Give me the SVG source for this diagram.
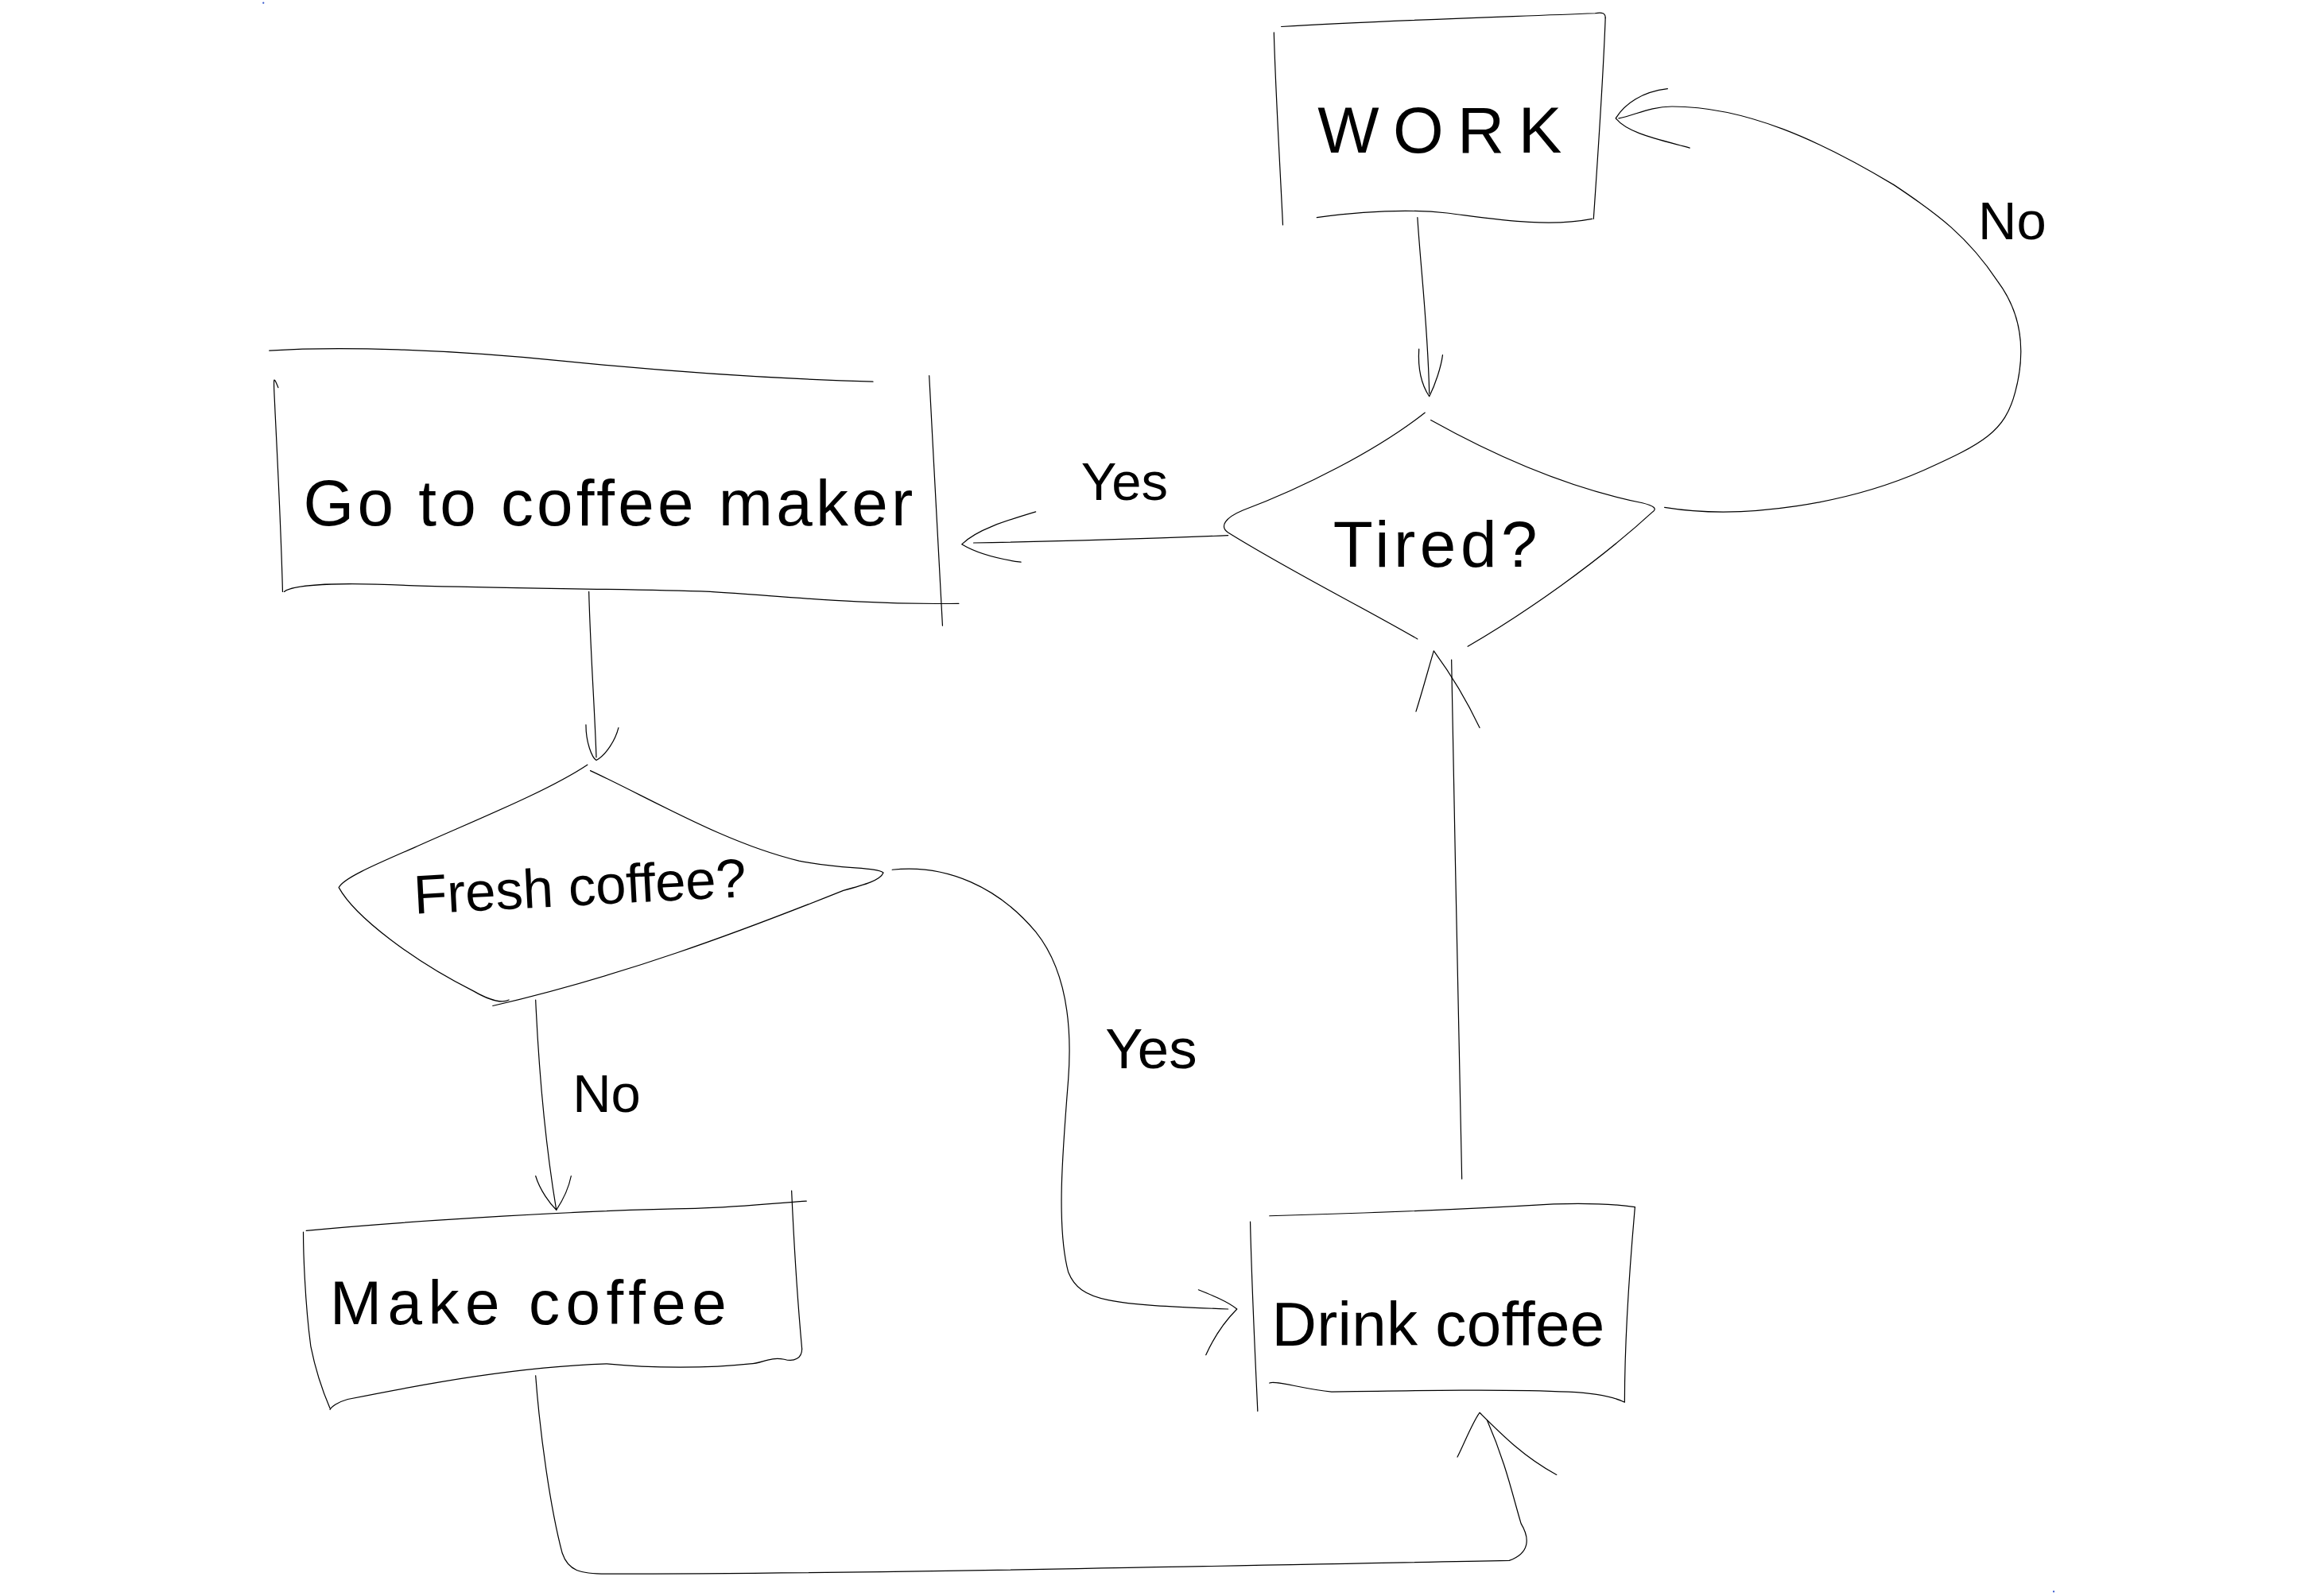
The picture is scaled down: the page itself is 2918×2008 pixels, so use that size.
<svg xmlns="http://www.w3.org/2000/svg" width="2918" height="2008" viewBox="0 0 2918 2008">
<style>
.s{fill:none;stroke:#000;stroke-width:0.65;stroke-linecap:round;stroke-linejoin:round}
.t{font-family:"Liberation Sans",Arial,sans-serif;fill:#000;text-anchor:middle}
</style>
<rect width="2918" height="2008" fill="#fff"/>
<g transform="scale(1.861)">
<g id="work">
<path class="s" d="M866,18 C930,14 1000,12 1078,9 C1083,8 1085,9 1085,12"/>
<path class="s" d="M861,22 C862,60 865,110 867,152"/>
<path class="s" d="M1085,12 C1084,40 1081,90 1077,148"/>
<path class="s" d="M890,147 C920,143 950,141 978,144 C1010,148 1045,154 1076,148"/>
<text class="t" x="973" y="103" font-size="44" textLength="165" lengthAdjust="spacing">WORK</text>
</g>
<g id="tired">
<path class="s" d="M963,279 C930,305 880,330 840,345 C828,350 824,356 830,360 C870,385 920,410 958,432"/>
<path class="s" d="M967,284 C1010,308 1060,330 1110,340 C1118,342 1120,344 1117,346 C1080,380 1030,415 992,437"/>
<text class="t" x="970" y="383" font-size="44" textLength="138" lengthAdjust="spacing">Tired?</text>
</g>
<g id="goto">
<path class="s" d="M182,237 C230,234 300,236 380,244 C450,251 520,256 590,258"/>
<path class="s" d="M188,262 C184,252 185,256 186,280 C188,320 190,360 191,400"/>
<path class="s" d="M628,254 C631,310 634,370 637,423"/>
<path class="s" d="M192,400 C200,394 240,394 280,396 C350,398 420,398 480,400 C530,403 580,409 648,408"/>
<text class="t" x="411" y="355" font-size="44" textLength="412" lengthAdjust="spacing">Go to coffee maker</text>
</g>
<g id="fresh">
<path class="s" d="M397,517 C370,535 320,555 280,573 C250,586 232,594 229,600 C240,620 280,650 320,670 C332,677 340,678 344,676"/>
<path class="s" d="M399,521 C440,540 490,570 540,582 C570,588 592,586 597,590 C595,595 585,598 570,602 C500,630 420,660 333,680"/>
<text class="t" x="392" y="612" font-size="37" textLength="225" lengthAdjust="spacing" transform="rotate(-3 392 600)">Fresh coffee?</text>
</g>
<g id="make">
<path class="s" d="M207,832 C280,825 400,818 470,817 C500,816 530,813 545,812"/>
<path class="s" d="M205,833 C205,845 206,880 210,910 C214,930 220,945 223,952"/>
<path class="s" d="M535,805 C537,850 540,890 542,912 C542,918 537,921 530,919 C520,917 515,922 507,922 C480,925 440,925 410,922 C350,924 290,935 235,946 C228,948 224,951 223,953"/>
<text class="t" x="357" y="895" font-size="42" textLength="268" lengthAdjust="spacing">Make coffee</text>
</g>
<g id="drink">
<path class="s" d="M858,822 C930,820 1000,817 1050,814 C1080,813 1098,815 1105,816"/>
<path class="s" d="M845,826 C846,870 848,910 850,954"/>
<path class="s" d="M1105,816 C1102,850 1098,900 1098,948 C1092,945 1080,942 1060,941 C1020,939 960,940 900,941 C880,939 862,933 858,935"/>
<text class="t" x="972" y="910" font-size="42" textLength="225" lengthAdjust="spacing">Drink coffee</text>
</g>
<g id="connectors">
<path class="s" d="M958,147 C960,180 965,220 966,266"/>
<path class="s" d="M959,236 C958,252 962,262 966,268 C970,260 974,248 975,240"/>
<path class="s" d="M1125,343 C1180,352 1250,340 1300,318 C1340,300 1355,292 1362,265 C1370,235 1365,210 1350,190 C1330,160 1310,145 1280,125 C1230,95 1180,72 1130,72 C1115,72 1105,78 1094,80"/>
<path class="s" d="M1127,60 C1110,62 1098,70 1092,80 C1100,90 1120,94 1142,100"/>
<path class="s" d="M830,362 C780,364 720,366 658,367"/>
<path class="s" d="M700,346 C680,352 660,358 650,368 C660,374 675,378 690,380"/>
<path class="s" d="M398,400 C399,440 402,480 403,512"/>
<path class="s" d="M396,490 C396,502 400,512 403,514 C410,510 416,500 418,492"/>
<path class="s" d="M362,676 C364,720 368,770 376,818"/>
<path class="s" d="M362,795 C365,805 372,814 376,818 C380,812 384,805 386,795"/>
<path class="s" d="M603,588 C640,584 675,600 700,630 C720,655 725,690 722,730 C718,780 714,830 722,860 C730,880 750,882 830,885"/>
<path class="s" d="M810,872 C820,876 830,880 836,885 C826,895 820,905 815,916"/>
<path class="s" d="M362,930 C365,970 372,1020 380,1050 C384,1062 392,1064 410,1064 C600,1064 850,1058 1020,1055 C1034,1050 1034,1040 1028,1030 C1022,1010 1018,990 1005,960"/>
<path class="s" d="M985,985 C990,975 995,962 1000,955 C1015,970 1030,985 1052,997"/>
<path class="s" d="M988,797 C986,700 983,560 981,446"/>
<path class="s" d="M957,481 C962,465 966,450 969,440 C980,455 992,475 1000,492"/>
</g>
<g id="labels">
<text class="t" x="760" y="338" font-size="36">Yes</text>
<text class="t" x="1360" y="162" font-size="36">No</text>
<text class="t" x="410" y="752" font-size="36">No</text>
<text class="t" x="778" y="722" font-size="38">Yes</text>
</g>
<circle cx="178" cy="2" r="0.6" fill="#3355cc"/>
<circle cx="1388" cy="1076" r="0.6" fill="#3355cc"/>
</g>
</svg>
